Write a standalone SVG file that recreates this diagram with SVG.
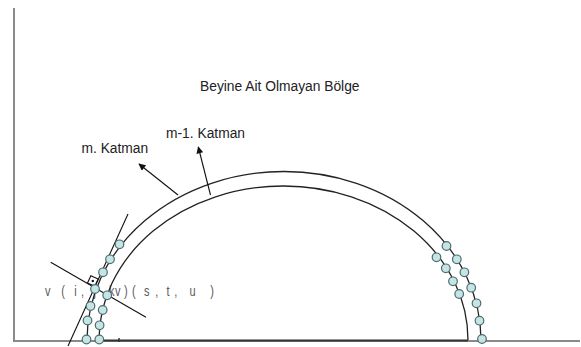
<svg xmlns="http://www.w3.org/2000/svg" width="581" height="347" viewBox="0 0 581 347">
<style>
.lbl{font-family:"Liberation Sans",Arial,sans-serif;font-size:13.8px;fill:#222}
.idx{font-family:"Liberation Sans",Arial,sans-serif;font-size:11px;fill:#5a5a5a}
.arc{fill:none;stroke:#222;stroke-width:1.3}
.ln{stroke:#111;stroke-width:1.1;fill:none}
.nd{fill:#c6e4e4;stroke:#4c6d70;stroke-width:1.2}
.axis{stroke:#8a8a8a;stroke-width:2;fill:none}
</style>
<defs>
<marker id="ah" viewBox="0 0 10 10" refX="9" refY="5" markerWidth="9" markerHeight="7" markerUnits="userSpaceOnUse" orient="auto">
<path d="M0,0 L10,5 L0,10 z" fill="#111"/>
</marker>
</defs>
<g id="axes">
<path class="axis" d="M14,8 L14,341 L580,341"/>
<path d="M99,340.5 L468,340.5" stroke="#333" stroke-width="2"/>
<path d="M119,338 L119,342" stroke="#333" stroke-width="1.5"/>
</g>
<g id="title"><text class="lbl" x="200" y="91">Beyine Ait Olmayan Bölge</text></g>
<g id="label-m"><text class="lbl" x="81.5" y="153">m. Katman</text></g>
<g id="label-m1"><text class="lbl" x="166" y="137.5">m-1. Katman</text></g>
<g id="index-label">
<text class="idx" transform="translate(0,296) scale(1,1.3)" y="0" x="45 61.2 74.3 81 93.5 106.5 109 115 124 132 144 155.2 166.6 174.2 189.6 210.2">v(i,j,kv)(s,t,u)</text>
</g>
<g id="layer-outer"><path class="arc" d="M87,340 A197,168.5 0 0 1 481,340"/></g>
<g id="layer-inner"><path class="arc" d="M99,340 A184.5,154 0 0 1 468,340"/></g>
<g id="connectors">
<line class="ln" x1="178" y1="195" x2="139" y2="164" stroke-width="1.5" marker-end="url(#ah)"/>
<line class="ln" x1="210.5" y1="195" x2="198.3" y2="147" stroke-width="1.5" marker-end="url(#ah)"/>
<line class="ln" x1="68" y1="346" x2="128" y2="214"/>
<line class="ln" x1="50.7" y1="262.3" x2="146" y2="317.3"/>
</g>
<g id="right-angle">
<rect x="-4" y="-4" width="8" height="8" fill="#fff" stroke="#111" stroke-width="1.1" transform="translate(92.8,281) rotate(25)"/>
<circle cx="92.8" cy="281" r="1.2" fill="#111"/>
</g>
<g id="nodes-left-outer">
<circle class="nd" cx="119.5" cy="244.3" r="4.3"/>
<circle class="nd" cx="110" cy="259.3" r="4.3"/>
<circle class="nd" cx="103" cy="272.3" r="4.3"/>
<circle class="nd" cx="95" cy="289" r="4.3"/>
<circle class="nd" cx="90.5" cy="306" r="4.3"/>
<circle class="nd" cx="87.5" cy="320.5" r="4.3"/>
<circle class="nd" cx="86.5" cy="339.5" r="4.3"/>
</g>
<g id="nodes-left-inner">
<circle class="nd" cx="107.2" cy="295.3" r="4.3"/>
<circle class="nd" cx="102.7" cy="310" r="4.3"/>
<circle class="nd" cx="99.6" cy="325.3" r="4.3"/>
<circle class="nd" cx="99.3" cy="339.5" r="4.3"/>
</g>
<g id="nodes-right-outer">
<circle class="nd" cx="446.5" cy="246" r="4.3"/>
<circle class="nd" cx="456.8" cy="259.3" r="4.3"/>
<circle class="nd" cx="464.4" cy="272.3" r="4.3"/>
<circle class="nd" cx="471.2" cy="287.7" r="4.3"/>
<circle class="nd" cx="476.5" cy="303.3" r="4.3"/>
<circle class="nd" cx="479.5" cy="320.7" r="4.3"/>
<circle class="nd" cx="482" cy="339" r="4.3"/>
</g>
<g id="nodes-right-inner">
<circle class="nd" cx="436.5" cy="257.3" r="4.3"/>
<circle class="nd" cx="445.8" cy="268.3" r="4.3"/>
<circle class="nd" cx="453" cy="281.3" r="4.3"/>
<circle class="nd" cx="459.2" cy="294" r="4.3"/>
</g>
</svg>
